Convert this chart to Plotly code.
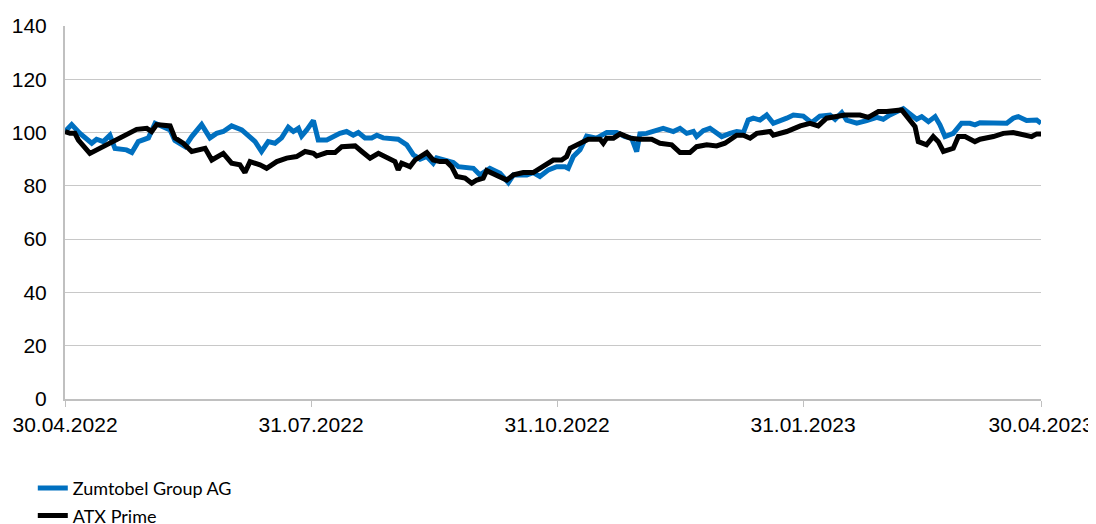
import pandas as pd
import plotly.graph_objects as go

START = "2022-04-30"

# Days since 30.04.2022 and indexed values
zumtobel_days = [0, 2.5, 5.6, 10, 11.8, 14.3, 16.8, 18.7, 23, 25, 27.4, 31.2, 33.7, 36.8, 39.3, 41.1,
                 44.9, 47.4, 51.1, 54.2, 56.7, 59.2, 62.3, 66.1, 68.6, 71.1, 73.5, 76, 78.5, 81, 83.5,
                 85.4, 87.3, 88.5, 90.4, 92.9, 94.7, 97.9, 102.8, 105.3, 107.8, 109.7, 112.2, 114.7,
                 116.6, 119, 124.6, 127.8, 130.3, 132.8, 135.3, 137.7, 139, 142.7, 145.2, 147.1, 152.7,
                 155.2, 158.9, 162.7, 165.8, 167.7, 172.7, 175.1, 177.6, 180.8, 183.9, 187, 188.2, 190.1,
                 192.6, 195.1, 198.8, 202.6, 206.3, 209.4, 211.9, 213.8, 215, 217.5, 220.6, 223.7, 227.5,
                 230, 232.5, 235, 236.2, 238.7, 241.2, 243.7, 245.6, 248.7, 251.2, 253.7, 255.5, 257.4,
                 259.9, 262.4, 264.9, 269.9, 272.4, 276.1, 279.2, 282.3, 286.1, 288, 290.5, 292.3, 296.1,
                 299.8, 303.6, 306, 308.5, 313.5, 316.6, 318.5, 320.4, 322.9, 325.4, 327.2, 329.1, 332.2,
                 335.3, 338.4, 340.3, 342.2, 352.2, 354.6, 356.5, 359.6, 363.4, 365]
zumtobel_values = [100.4, 103, 99.7, 96, 97.5, 96.6, 99, 94, 93.5, 92.5, 96.6, 98, 103.5, 102, 101, 97,
                   94.7, 98.5, 103, 98, 99.7, 100.4, 102.5, 101, 99, 96.6, 92.9, 96.6, 96, 98, 102,
                   100.4, 101.6, 98.7, 101, 104.5, 97.2, 97.2, 99.7, 100.4, 99, 100, 98, 98,
                   99, 98, 97.5, 95.4, 91.6, 90, 91, 88.5, 90.5, 89.5, 88.8, 87.2, 86.6,
                   84.1, 86.6, 84.7, 81.2, 84.1, 84.1, 85, 83.5, 86, 87.2, 87.2, 86.6, 91,
                   93.5, 98.7, 97.9, 100, 100, 98.5, 97.9, 92.9, 99.5, 99.7, 100.7, 101.6, 100.4,
                   101.6, 99.7, 100.4, 98.5, 100.7, 101.6, 99.7, 98.5, 99.7, 100.4, 100, 104.7, 105.4,
                   104.7, 106.6, 103.5, 105.4, 106.6, 106.2, 103.7, 106.2, 106.6, 105, 107.5, 104.7, 103.5,
                   104.5, 105.7, 105, 106.6, 109, 106.2, 105, 106, 104.1, 106, 102.9, 98.5, 99.7,
                   103.5, 103.5, 102.9, 103.7, 103.5, 105.4, 106, 104.5, 104.7, 103.5]

atx_days = [0, 1.9, 3.7, 5, 9.3, 11.8, 14.3, 18.1, 23.1, 26.8, 30.6, 32.4, 34.3, 39.3, 41.1, 44.2,
            47.4, 49.9, 52.4, 54.9, 59.2, 62.3, 65.4, 67.3, 69.2, 72.9, 75.4, 79.2, 82.9, 86.6, 89.8,
            92.9, 94.1, 97.9, 101, 103.5, 108.5, 111, 114.1, 117.2, 120.3, 123.4, 124.6, 125.9, 129,
            130.9, 135.3, 137.7, 140.2, 142.7, 144.6, 146.5, 149.6, 152.1, 154, 156.4, 157.7, 161.4,
            165.2, 167.7, 171.4, 175.1, 177.6, 181.4, 182.6, 185.7, 187.6, 188.9, 192.6, 195.7, 200.1,
            201.3, 202.6, 205.1, 207.6, 211.3, 215, 219.4, 222.5, 226.9, 230, 233.7, 236.2, 240, 243.7,
            246.8, 251.2, 253.7, 256.2, 258.7, 263.7, 264.9, 269.9, 272.4, 275, 278.6, 281.7, 284.8,
            289.2, 291.7, 297.3, 300.4, 304.2, 307.3, 312.9, 315.4, 317.9, 319.1, 322.2, 324.7, 326.6,
            328.5, 332.2, 334.1, 336.6, 340.3, 342.2, 347.2, 350.9, 354.6, 359.6, 361.5, 363.4, 365]
atx_values = [100.4, 99.7, 99.7, 97.2, 92.2, 93.5, 94.7, 96.6, 99, 101.2, 101.6, 100.4, 103, 102.5, 98, 96,
              92.9, 93.5, 94.1, 89.7, 92.2, 88.5, 87.9, 85, 89.1, 87.9, 86.6, 89.1, 90.4, 91, 92.9,
              92.2, 91.2, 92.5, 92.5, 94.7, 95, 92.9, 90.4, 92.2, 90.4, 89.1, 86, 88.5, 87.2,
              89.7, 92.5, 89.7, 89.1, 89.1, 87.2, 83.5, 82.9, 81, 82.2, 82.9, 85.7, 84.1,
              82.2, 84.1, 85, 85, 86.6, 89.1, 89.7, 89.7, 91, 94.1, 96, 97.5, 97.5,
              96, 97.9, 97.9, 99.5, 97.9, 97.5, 97.5, 96, 95.4, 92.5, 92.5, 94.7, 95.4, 95,
              96, 99, 99, 97.9, 99.7, 100.4, 99, 100.4, 101.6, 102.5, 103.5, 102.5, 105.4,
              106, 106.6, 106.6, 105.7, 107.9, 107.9, 108.5, 105.4, 102.2, 96.6, 95.4, 98.5, 96.6,
              92.9, 94.1, 98.5, 98.5, 96.6, 97.5, 98.5, 99.7, 100, 99, 98.5, 99.5, 99.5]

tick_dates = ["2022-04-30", "2022-07-31", "2022-10-31", "2023-01-31", "2023-04-30"]
tick_labels = ["30.04.2022", "31.07.2022", "31.10.2022", "31.01.2023", "30.04.2023"]
y_ticks = [0, 20, 40, 60, 80, 100, 120, 140]

base = pd.Timestamp(START)
z_dates = base + pd.to_timedelta(zumtobel_days, unit="D")
a_dates = base + pd.to_timedelta(atx_days, unit="D")

fig = go.Figure()
fig.add_trace(go.Scatter(x=z_dates, y=zumtobel_values, mode="lines", name="Zumtobel Group AG",
                         line=dict(color="#0070C0", width=5), legendgroup="a"))
fig.add_trace(go.Scatter(x=a_dates, y=atx_values, mode="lines", name="ATX Prime",
                         line=dict(color="#000000", width=5), legendgroup="b"))

fig.update_layout(
    width=1088, height=516,
    margin=dict(l=57, r=55, t=18, b=125, autoexpand=False),
    paper_bgcolor="white", plot_bgcolor="white",
    font=dict(family="Liberation Sans, Arial, sans-serif", size=21, color="#000"),
    showlegend=True,
    legend=dict(x=-0.033, xanchor="left", y=-0.19, yanchor="top", orientation="v",
                font=dict(family="Lato, sans-serif", size=18, color="#000"),
                tracegroupgap=1, traceorder="grouped", bgcolor="rgba(0,0,0,0)"),
    xaxis=dict(type="date", range=[tick_dates[0], tick_dates[-1]], automargin=False,
               tickvals=tick_dates, ticktext=tick_labels, ticks="outside", ticklen=6,
               tickcolor="#c0c0c0", showline=True, linecolor="#c0c0c0", linewidth=2,
               showgrid=False, zeroline=False, tickfont=dict(size=21),
               ticklabeloverflow="allow"),
    yaxis=dict(range=[0, 140], tickvals=y_ticks, showgrid=True, gridcolor="#c8c8c8",
               gridwidth=1, showline=True, linecolor="#c0c0c0", linewidth=2, automargin=False,
               zeroline=False, ticks="", ticklabelstandoff=12, tickfont=dict(size=21)),
)

fig.write_html("out.html")
